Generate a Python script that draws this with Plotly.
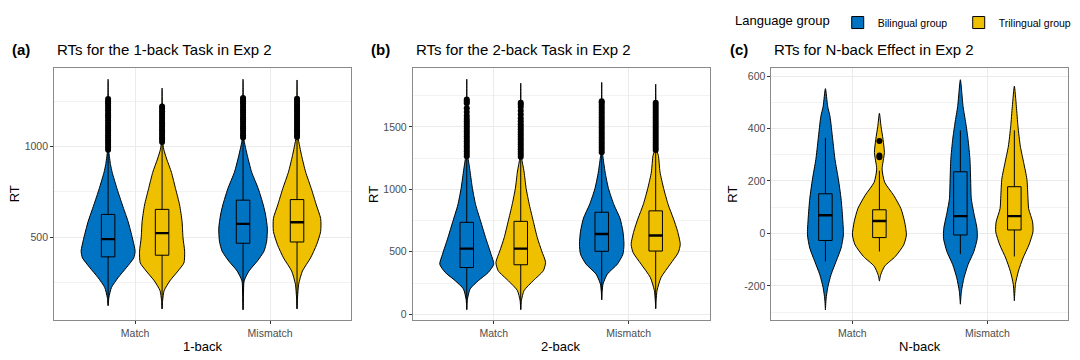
import plotly.graph_objects as go

# ---------------- data ----------------
categories = ["Match", "Mismatch"]
groups = ["Bilingual group", "Trilingual group"]
colors = ["#0073C2", "#EFC000"]
panel_tags = ["(a)", "(b)", "(c)"]
panel_titles = ["RTs for the 1-back Task in Exp 2",
                "RTs for the 2-back Task in Exp 2",
                "RTs for N-back Effect in Exp 2"]
x_titles = ["1-back", "2-back", "N-back"]
y_tickvals_a = [500, 1000]
y_ticktext_a = ["500", "1000"]
y_tickvals_b = [0, 500, 1000, 1500]
y_ticktext_b = ["0", "500", "1000", "1500"]
y_tickvals_c = [-200, 0, 200, 400, 600]
y_ticktext_c = ["-200", "0", "200", "400", "600"]

# violin density profiles: RT level (descending) and half-width of the violin
a_match_bi_rt = [1371, 1200, 1000, 967, 900, 858, 767, 677, 586, 495, 422, 385, 331, 276, 222, 167, 122]
a_match_bi_w = [0, 0.002, 0.004, 0.006, 0.018, 0.03, 0.066, 0.106, 0.148, 0.18, 0.2, 0.19, 0.135, 0.074, 0.025, 0.006, 0]
a_match_tri_rt = [1322, 1150, 1022, 985, 931, 858, 767, 677, 586, 495, 422, 358, 313, 258, 204, 150, 104]
a_match_tri_w = [0, 0.002, 0.005, 0.012, 0.034, 0.069, 0.1, 0.13, 0.148, 0.155, 0.167, 0.162, 0.118, 0.057, 0.015, 0.004, 0]
a_mis_bi_rt = [1371, 1200, 1045, 949, 858, 767, 677, 622, 549, 477, 422, 368, 313, 258, 180, 99]
a_mis_bi_w = [0, 0.002, 0.005, 0.032, 0.064, 0.113, 0.15, 0.167, 0.18, 0.175, 0.155, 0.106, 0.044, 0.008, 0.003, 0]
a_mis_tri_rt = [1367, 1200, 1049, 949, 858, 767, 677, 603, 531, 458, 385, 313, 240, 170, 104]
a_mis_tri_w = [0, 0.002, 0.008, 0.034, 0.064, 0.106, 0.143, 0.175, 0.175, 0.145, 0.1, 0.04, 0.012, 0.004, 0]

b_match_bi_rt = [1883, 1500, 1258, 1245, 1139, 1007, 876, 744, 612, 480, 401, 335, 269, 203, 120, 37]
b_match_bi_w = [0, 0.002, 0.006, 0.01, 0.025, 0.042, 0.066, 0.103, 0.14, 0.18, 0.2, 0.16, 0.086, 0.025, 0.005, 0]
b_match_tri_rt = [1851, 1500, 1258, 1139, 1007, 876, 744, 612, 507, 415, 348, 269, 190, 110, 37]
b_match_tri_w = [0, 0.002, 0.006, 0.025, 0.04, 0.064, 0.093, 0.123, 0.155, 0.184, 0.167, 0.093, 0.025, 0.005, 0]
b_mis_bi_rt = [1857, 1500, 1297, 1271, 1139, 1007, 876, 770, 665, 559, 480, 401, 322, 243, 180, 116]
b_mis_bi_w = [0, 0.002, 0.006, 0.008, 0.025, 0.05, 0.091, 0.135, 0.157, 0.165, 0.157, 0.116, 0.042, 0.01, 0.003, 0]
b_mis_tri_rt = [1843, 1500, 1311, 1271, 1139, 1007, 876, 770, 665, 559, 493, 401, 295, 190, 110, 45]
b_mis_tri_w = [0, 0.003, 0.008, 0.02, 0.032, 0.059, 0.093, 0.13, 0.162, 0.182, 0.167, 0.108, 0.04, 0.01, 0.003, 0]

c_match_bi_rt = [552, 484, 446, 358, 282, 207, 132, 56, -6, -56, -107, -157, -207, -250, -292]
c_match_bi_w = [0, 0.017, 0.034, 0.054, 0.071, 0.096, 0.116, 0.128, 0.133, 0.116, 0.079, 0.042, 0.017, 0.005, 0]
c_match_tri_rt = [458, 408, 358, 308, 245, 195, 145, 94, 44, -6, -44, -88, -125, -157, -182]
c_match_tri_w = [0, 0.012, 0.027, 0.037, 0.02, 0.039, 0.106, 0.16, 0.187, 0.2, 0.18, 0.118, 0.039, 0.01, 0]
c_mis_bi_rt = [586, 484, 421, 358, 282, 207, 132, 82, 19, -19, -69, -119, -169, -220, -270]
c_mis_bi_w = [0, 0.02, 0.04, 0.057, 0.071, 0.076, 0.081, 0.098, 0.123, 0.125, 0.1, 0.057, 0.027, 0.008, 0]
c_mis_tri_rt = [561, 484, 408, 333, 270, 207, 145, 94, 44, 6, -44, -94, -144, -194, -257]
c_mis_tri_w = [0, 0.015, 0.027, 0.044, 0.069, 0.093, 0.1, 0.106, 0.135, 0.138, 0.108, 0.064, 0.03, 0.008, 0]

# box statistics, order: Match-Bilingual, Match-Trilingual, Mismatch-Bilingual, Mismatch-Trilingual
a_lower = [122, 104, 99, 104]
a_q1 = [391, 400, 466, 473]
a_median = [489, 522, 573, 582]
a_q3 = [625, 653, 704, 707]
a_upper = [976, 1020, 1045, 1049]

b_lower = [37, 37, 116, 45]
b_q1 = [374, 396, 504, 506]
b_median = [525, 525, 643, 631]
b_q3 = [736, 744, 817, 828]
b_upper = [1255, 1255, 1290, 1310]

c_lower = [-107, -69, -79, -88]
c_q1 = [-27, -16, -6, 13]
c_median = [69, 47, 66, 66]
c_q3 = [151, 90, 235, 178]
c_upper = [364, 239, 393, 393]

# outliers
a_out_match_bi = [982, 995, 1008, 1020, 1035, 1048, 1060, 1075, 1090, 1102, 1115, 1130, 1145, 1160, 1172, 1185, 1200, 1212, 1225, 1238, 1250, 1262]
a_out_match_tri = [1025, 1038, 1050, 1063, 1076, 1090, 1102, 1115, 1128, 1140, 1155, 1168, 1180, 1195, 1208, 1220]
a_out_mis_bi = [1050, 1062, 1075, 1088, 1100, 1112, 1125, 1138, 1150, 1162, 1175, 1188, 1200, 1212, 1225, 1238, 1250, 1262, 1267]
a_out_mis_tri = [1052, 1064, 1077, 1090, 1102, 1114, 1127, 1140, 1152, 1164, 1177, 1190, 1202, 1214, 1227, 1240, 1252, 1264]
b_out_match_bi = [1265, 1285, 1305, 1325, 1345, 1365, 1385, 1405, 1425, 1445, 1465, 1485, 1505, 1525, 1545, 1565, 1590, 1620, 1650, 1690, 1705, 1719]
b_out_match_tri = [1262, 1282, 1302, 1322, 1342, 1362, 1382, 1402, 1422, 1442, 1462, 1482, 1502, 1522, 1545, 1570, 1600, 1630, 1660, 1680, 1693]
b_out_mis_bi = [1297, 1317, 1337, 1357, 1377, 1397, 1417, 1437, 1457, 1477, 1497, 1517, 1537, 1557, 1577, 1597, 1617, 1637, 1657, 1677, 1695, 1706]
b_out_mis_tri = [1315, 1335, 1355, 1375, 1395, 1415, 1435, 1455, 1475, 1495, 1515, 1535, 1555, 1575, 1595, 1615, 1635, 1655, 1675, 1693]
c_out_match_bi = []
c_out_match_tri = [290, 297, 352]
c_out_mis_bi = []
c_out_mis_tri = []

# ---------------- structure ----------------
panels = [
    dict(profiles=[(a_match_bi_rt, a_match_bi_w), (a_match_tri_rt, a_match_tri_w),
                   (a_mis_bi_rt, a_mis_bi_w), (a_mis_tri_rt, a_mis_tri_w)],
         stats=(a_lower, a_q1, a_median, a_q3, a_upper),
         outliers=[a_out_match_bi, a_out_match_tri, a_out_mis_bi, a_out_mis_tri],
         yrange=[40, 1435], ticks=y_tickvals_a, ticktext=y_ticktext_a, minor=250),
    dict(profiles=[(b_match_bi_rt, b_match_bi_w), (b_match_tri_rt, b_match_tri_w),
                   (b_mis_bi_rt, b_mis_bi_w), (b_mis_tri_rt, b_mis_tri_w)],
         stats=(b_lower, b_q1, b_median, b_q3, b_upper),
         outliers=[b_out_match_bi, b_out_match_tri, b_out_mis_bi, b_out_mis_tri],
         yrange=[-50, 1975], ticks=y_tickvals_b, ticktext=y_ticktext_b, minor=250),
    dict(profiles=[(c_match_bi_rt, c_match_bi_w), (c_match_tri_rt, c_match_tri_w),
                   (c_mis_bi_rt, c_mis_bi_w), (c_mis_tri_rt, c_mis_tri_w)],
         stats=(c_lower, c_q1, c_median, c_q3, c_upper),
         outliers=[c_out_match_bi, c_out_match_tri, c_out_mis_bi, c_out_mis_tri],
         yrange=[-332, 632], ticks=y_tickvals_c, ticktext=y_ticktext_c, minor=100),
]

# page body has an 8px margin: build the figure 8px smaller and offset all page positions
OFF = 8
W, H = 1080 - OFF, 360 - OFF
FONT = "Liberation Sans, Arial, sans-serif"


def px_x(page_x):
    return (page_x - OFF) / W


def px_y(page_y):
    return 1 - (page_y - OFF) / H


x_domains_px = [(54.3, 352.3), (414.3, 712.3), (774.3, 1072.3)]
y_domain = [px_y(320), px_y(64.3)]
dodge = 0.2
box_w = 0.1
XRANGE = [0.4, 2.6]

fig = go.Figure()
layout = dict()
annotations = []

for p, panel in enumerate(panels):
    # base axes (violins) and overlay axes (boxes, medians, outliers drawn on top)
    xa = "x" if p == 0 else f"x{p+1}"
    ya = "y" if p == 0 else f"y{p+1}"
    xo, yo = f"x{p+4}", f"y{p+4}"
    lower, q1, med, q3, upper = panel["stats"]
    k = 0
    for ci, cat in enumerate(categories):
        for gi, grp in enumerate(groups):
            center = (ci + 1) + (gi - 0.5) * 2 * dodge
            rt, w = panel["profiles"][k]
            xs = [center + v for v in w] + [center - v for v in reversed(w)]
            ys = list(rt) + list(reversed(rt))
            fig.add_trace(go.Scatter(
                x=xs, y=ys, mode="lines", fill="toself", fillcolor=colors[gi],
                line=dict(color="black", width=1, shape="spline", smoothing=0.6),
                hoverinfo="skip", showlegend=False, xaxis=xa, yaxis=ya))
            fig.add_trace(go.Box(
                x=[center], q1=[q1[k]], median=[med[k]], q3=[q3[k]],
                lowerfence=[lower[k]], upperfence=[upper[k]], width=box_w,
                orientation="v",
                fillcolor=colors[gi], line=dict(color="black", width=1),
                whiskerwidth=0, boxpoints=False, name=grp, legendgroup=grp,
                showlegend=(p == 0 and ci == 0), xaxis=xo, yaxis=yo))
            fig.add_trace(go.Scatter(
                x=[center - box_w / 2, center + box_w / 2], y=[med[k], med[k]],
                mode="lines", line=dict(color="black", width=2.4),
                hoverinfo="skip", showlegend=False, xaxis=xo, yaxis=yo))
            outs = panel["outliers"][k]
            if outs:
                fig.add_trace(go.Scatter(
                    x=[center] * len(outs), y=outs, mode="markers",
                    marker=dict(color="black", size=6),
                    hoverinfo="skip", showlegend=False, xaxis=xo, yaxis=yo))
            k += 1

    x0, x1 = x_domains_px[p]
    axis_common = dict(showline=True, linecolor="#8a8a8a", linewidth=1, mirror=True,
                       ticks="outside", ticklen=3, tickcolor="#333333", tickwidth=1,
                       tickfont=dict(family=FONT, size=10.5, color="#4D4D4D"),
                       showgrid=True, gridcolor="#EBEBEB", gridwidth=1, zeroline=False)
    layout["xaxis" if p == 0 else f"xaxis{p+1}"] = dict(
        domain=[px_x(x0), px_x(x1)], range=XRANGE, tickmode="array",
        tickvals=[1, 2], ticktext=categories, anchor=ya, **axis_common)
    layout["yaxis" if p == 0 else f"yaxis{p+1}"] = dict(
        domain=y_domain, range=panel["yrange"], tickmode="array",
        tickvals=panel["ticks"], ticktext=panel["ticktext"], anchor=xa,
        minor=dict(showgrid=True, gridcolor="#F2F2F2", gridwidth=0.6,
                   dtick=panel["minor"], tick0=0),
        **axis_common)
    layout[f"xaxis{p+4}"] = dict(overlaying=xa, range=XRANGE, visible=False,
                                 showgrid=False, zeroline=False, anchor=yo)
    layout[f"yaxis{p+4}"] = dict(overlaying=ya, range=panel["yrange"], visible=False,
                                 showgrid=False, zeroline=False, anchor=xo)

    annotations.append(dict(x=px_x(x0 - 44), y=px_y(46), xref="paper", yref="paper",
                            text="<b>" + panel_tags[p] + "</b>", showarrow=False,
                            xanchor="left", yanchor="middle",
                            font=dict(family=FONT, size=15, color="black")))
    annotations.append(dict(x=px_x(x0 + 1), y=px_y(46), xref="paper", yref="paper",
                            text=panel_titles[p], showarrow=False,
                            xanchor="left", yanchor="middle",
                            font=dict(family=FONT, size=15, color="black")))
    annotations.append(dict(x=px_x((x0 + x1) / 2), y=px_y(346), xref="paper", yref="paper",
                            text=x_titles[p], showarrow=False,
                            xanchor="center", yanchor="middle",
                            font=dict(family=FONT, size=13, color="black")))
    annotations.append(dict(x=px_x(x0 - 40), y=(y_domain[0] + y_domain[1]) / 2,
                            xref="paper", yref="paper", text="RT", textangle=-90,
                            showarrow=False, xanchor="center", yanchor="middle",
                            font=dict(family=FONT, size=13, color="black")))

fig.update_layout(
    width=W, height=H, margin=dict(l=0, r=0, t=0, b=0),
    paper_bgcolor="white", plot_bgcolor="white",
    font=dict(family=FONT, color="black"),
    showlegend=True,
    legend=dict(orientation="h", x=px_x(736), xanchor="left", y=px_y(4), yanchor="top",
                title=dict(text="Language group", font=dict(family=FONT, size=13)),
                font=dict(family=FONT, size=10.5), itemwidth=30,
                entrywidth=76, entrywidthmode="pixels"),
    annotations=annotations,
    **layout,
)

fig.write_html("out.html")
